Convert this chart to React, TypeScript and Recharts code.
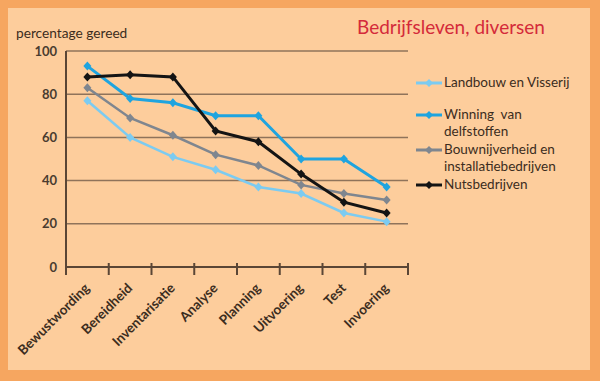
import { CartesianGrid, Legend, Line, LineChart, XAxis, YAxis } from "recharts";

const categories = [
  "Bewustwording",
  "Bereidheid",
  "Inventarisatie",
  "Analyse",
  "Planning",
  "Uitvoering",
  "Test",
  "Invoering",
];
const landbouw = [77, 60, 51, 45, 37, 34, 25, 21];
const winning = [93, 78, 76, 70, 70, 50, 50, 37];
const bouw = [83, 69, 61, 52, 47, 38, 34, 31];
const nuts = [88, 89, 88, 63, 58, 43, 30, 25];
const yTicks = [0, 20, 40, 60, 80, 100];
const seriesKeys = ["landbouw", "winning", "bouw", "nuts"];
const seriesNames = [
  "Landbouw en Visserij",
  "Winning  van\ndelfstoffen",
  "Bouwnijverheid en\ninstallatiebedrijven",
  "Nutsbedrijven",
];
const seriesColors = ["#7ccbf1", "#1fa4df", "#7f868f", "#141414"];

const rows = categories.map((cat, i) => ({
  cat,
  landbouw: landbouw[i],
  winning: winning[i],
  bouw: bouw[i],
  nuts: nuts[i],
}));

const W = 600;
const H = 381;
const margin = { top: 51, right: 192, bottom: 34, left: 26 };
const yAxisW = 40;
const band = (W - margin.left - margin.right - yAxisW) / categories.length;
const axisColor = "#5a4636";
const gridColor = "#8f735a";
const textColor = "#3b2c20";
const font = "Lato, 'Noto Sans', sans-serif";

function Diamond(props: any) {
  const { cx, cy, stroke, index } = props;
  if (cx == null || cy == null) return null;
  return (
    <path
      key={`d-${index}`}
      d={`M${cx},${cy - 4.5}L${cx + 4},${cy}L${cx},${cy + 4.5}L${cx - 4},${cy}Z`}
      fill={stroke}
    />
  );
}

function XTick(props: any) {
  const { x, y, payload, index } = props;
  const last = index === categories.length - 1;
  return (
    <g>
      <line x1={x - band / 2} x2={x - band / 2} y1={y - 4} y2={y + 8} stroke={axisColor} strokeWidth={2} />
      {last && (
        <line x1={x + band / 2} x2={x + band / 2} y1={y - 4} y2={y + 8} stroke={axisColor} strokeWidth={2} />
      )}
      <text
        transform={`translate(${x + 3},${y + 22}) rotate(-45)`}
        textAnchor="end"
        fontFamily={font}
        fontSize={13.5}
        fontWeight={700}
        fill={textColor}
      >
        {payload.value}
      </text>
    </g>
  );
}

function LegendBox() {
  const gaps = [0, 14, 0, 0];
  return (
    <div style={{ fontFamily: font, fontSize: 13.5, color: textColor, lineHeight: "17.5px" }}>
      {seriesNames.map((name, i) => (
        <div key={name} style={{ display: "flex", alignItems: "flex-start", marginTop: gaps[i] }}>
          <svg width={28} height={17.5} style={{ flex: "none" }}>
            <line x1={0} x2={26} y1={9} y2={9} stroke={seriesColors[i]} strokeWidth={3} />
            <path d="M13,5L17,9L13,13L9,9Z" fill={seriesColors[i]} />
          </svg>
          <span style={{ whiteSpace: "pre" }}>{name}</span>
        </div>
      ))}
    </div>
  );
}

export default function App() {
  return (
    <div style={{ position: "absolute", left: 0, top: 0, width: W, height: H, background: "#f6a660" }}>
      <div
        style={{
          position: "absolute",
          left: 8,
          top: 8,
          width: 582,
          height: 362,
          background: "#fdcd9c",
        }}
      />
      <div
        style={{
          position: "absolute",
          left: 357,
          top: 15,
          fontFamily: font,
          fontSize: 19,
          color: "#d42a3a",
          whiteSpace: "nowrap",
        }}
      >
        Bedrijfsleven, diversen
      </div>
      <div
        style={{
          position: "absolute",
          left: 16,
          top: 24,
          fontFamily: font,
          fontSize: 13.7,
          color: textColor,
          whiteSpace: "nowrap",
        }}
      >
        percentage gereed
      </div>
      <LineChart
        width={W}
        height={H}
        data={rows}
        margin={margin}
        style={{ position: "absolute", left: 0, top: 0 }}
      >
        <CartesianGrid horizontal vertical={false} stroke={gridColor} strokeWidth={1.5} />
        <XAxis
          dataKey="cat"
          interval={0}
          height={80}
          padding={{ left: band / 2, right: band / 2 }}
          tickLine={false}
          tickSize={0}
          tickMargin={0}
          axisLine={{ stroke: axisColor, strokeWidth: 2 }}
          tick={<XTick />}
        />
        <YAxis
          width={yAxisW}
          domain={[0, 100]}
          ticks={yTicks}
          tickLine={false}
          tickSize={0}
          tickMargin={9}
          axisLine={{ stroke: axisColor, strokeWidth: 2 }}
          tick={{ fontFamily: font, fontSize: 13, fontWeight: 700, fill: "#4a3c30" }}
        />
        <Legend
          layout="horizontal"
          align="center"
          verticalAlign="middle"
          wrapperStyle={{ left: 416, top: 74, width: 180 }}
          content={() => <LegendBox />}
        />
        {seriesKeys.map((k, i) => (
          <Line
            key={k}
            dataKey={k}
            name={seriesNames[i]}
            type="linear"
            stroke={seriesColors[i]}
            strokeWidth={i === 1 || i === 3 ? 3 : 2.5}
            dot={<Diamond />}
            activeDot={false}
            isAnimationActive={false}
          />
        ))}
      </LineChart>
    </div>
  );
}
